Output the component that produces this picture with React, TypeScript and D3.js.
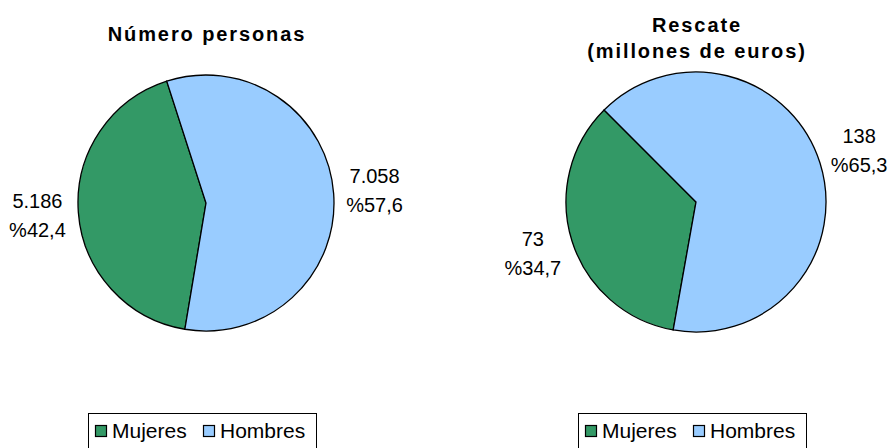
import React from 'react';
import * as d3 from 'd3';

const categories = ['Mujeres', 'Hombres'];
const colors = ['#339966', '#99ccff'];

const personasValues = [5186, 7058];
const personasPct = [42.4, 57.6];

const rescateValues = [73, 138];
const rescatePct = [34.7, 65.3];

const locale = d3.formatLocale({ decimal: ',', thousands: '.', grouping: [3], currency: ['', '€'] });
const fmtValue = locale.format(',d');
const fmtPct = locale.format('.1f');

const WIDTH = 891;
const HEIGHT = 448;
const FONT = '"Liberation Sans", Arial, sans-serif';

interface PieProps {
  cx: number;
  cy: number;
  radius: number;
  values: number[];
  pct: number[];
  startDeg: number; // where the first slice (Mujeres) begins, clockwise from top
  title: string[];
  titleY: number;
}

const PieChart: React.FC<PieProps> = ({ cx, cy, radius, values, pct, startDeg, title, titleY }) => {
  const start = (startDeg * Math.PI) / 180;
  const pie = d3.pie<number>().sort(null).startAngle(start).endAngle(start + 2 * Math.PI);
  const arcs = pie(pct);
  const arc = d3.arc<d3.PieArcDatum<number>>().innerRadius(0).outerRadius(radius);
  const labelArc = d3.arc<d3.PieArcDatum<number>>().innerRadius(radius + 41).outerRadius(radius + 41);

  return (
    <g>
      {title.map((t, i) => (
        <text
          key={t}
          x={cx + 1}
          y={titleY + i * 26}
          textAnchor="middle"
          fontFamily={FONT}
          fontWeight="bold"
          fontSize={20}
          letterSpacing={1.9}
        >
          {t}
        </text>
      ))}
      <g transform={`translate(${cx},${cy})`}>
        {arcs.map((a, i) => (
          <path key={categories[i]} d={arc(a) || ''} fill={colors[i]} stroke="#000" strokeWidth={1.3} />
        ))}
        {arcs.map((a, i) => {
          const [lx, ly] = labelArc.centroid(a);
          return (
            <text key={'l' + i} textAnchor="middle" fontFamily={FONT} fontSize={20} fill="#000">
              <tspan x={lx} y={ly - 7.5}>{fmtValue(values[i])}</tspan>
              <tspan x={lx} y={ly + 21.5}>{'%' + fmtPct(pct[i])}</tspan>
            </text>
          );
        })}
      </g>
    </g>
  );
};

const Legend: React.FC<{ x: number; y: number }> = ({ x, y }) => {
  const itemX = [7, 115];
  return (
    <g transform={`translate(${x},${y})`}>
      <rect x={0.5} y={0.5} width={228} height={60} fill="#fff" stroke="#000" strokeWidth={1} />
      {categories.map((c, i) => (
        <g key={c} transform={`translate(${itemX[i]},0)`}>
          <rect x={0.5} y={12.5} width={11} height={11} fill={colors[i]} stroke="#000" strokeWidth={1.2} />
          <text x={17} y={24.5} fontFamily={FONT} fontSize={21}>
            {c}
          </text>
        </g>
      ))}
    </g>
  );
};

export default function App() {
  return (
    <svg
      width={WIDTH}
      height={HEIGHT}
      style={{ position: 'absolute', left: 0, top: 0, background: '#fff' }}
    >
      <rect width={WIDTH} height={HEIGHT} fill="#fff" />
      <PieChart
        cx={206}
        cy={203}
        radius={128}
        values={personasValues}
        pct={personasPct}
        startDeg={189.5}
        title={['Número personas']}
        titleY={41}
      />
      <PieChart
        cx={696}
        cy={202}
        radius={130}
        values={rescateValues}
        pct={rescatePct}
        startDeg={190.1}
        title={['Rescate', '(millones de euros)']}
        titleY={32}
      />
      <Legend x={88} y={413} />
      <Legend x={578} y={413} />
    </svg>
  );
}
